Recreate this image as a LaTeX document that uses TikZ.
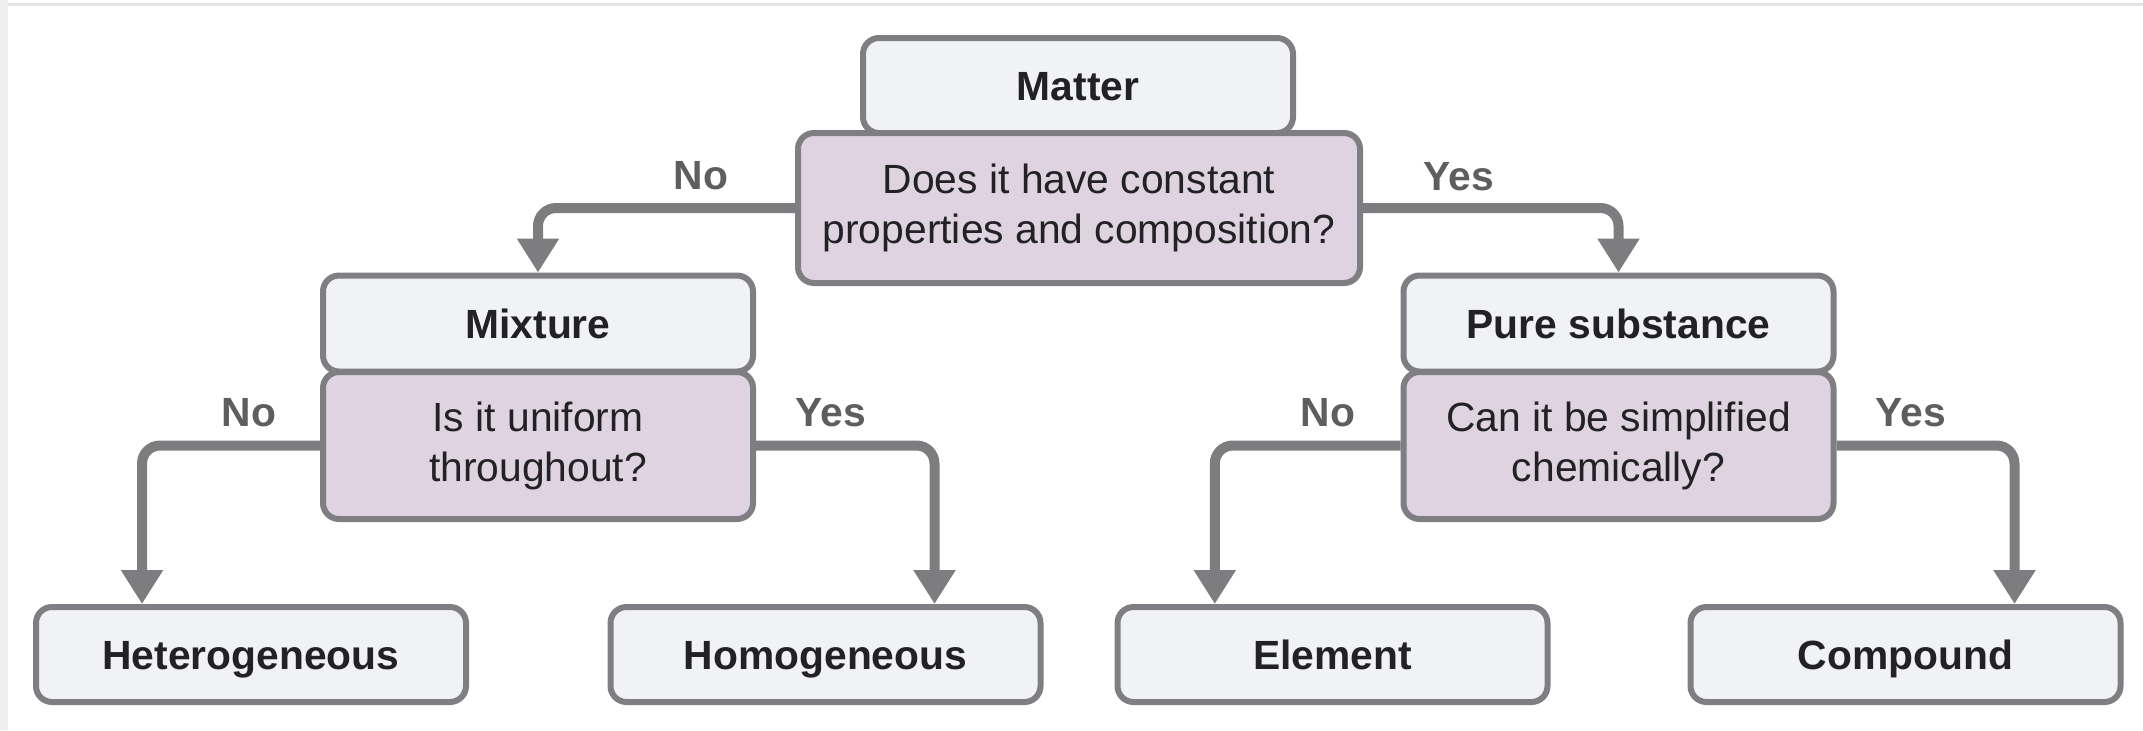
\documentclass[tikz,border=0pt]{standalone}
\usepackage{fontspec}
\setmainfont{Liberation Sans}
\usetikzlibrary{arrows.meta,calc}
\usepackage{xcolor}
\definecolor{boxFill}{HTML}{F1F2F4}
\definecolor{boxLine}{HTML}{7F7F83}
\definecolor{askFill}{HTML}{DFD3E2}
\definecolor{arrowGray}{HTML}{7D7D80}
\definecolor{labelGray}{HTML}{5E5E61}
\definecolor{inkDark}{HTML}{222224}
\definecolor{frameGray}{HTML}{EEF0EE}
\definecolor{frameLine}{HTML}{E3E5E3}

\begin{document}
\begin{tikzpicture}[
  x=0.5pt, y=-0.5pt,
  font=\fontsize{20.4}{25}\selectfont,
  category/.style={draw=boxLine,line width=3pt,rounded corners=8pt,fill=boxFill,text=inkDark,minimum width=215pt,minimum height=48pt,text height=18.6pt,text depth=4pt,font=\fontsize{20.4}{25}\selectfont\bfseries},
  question/.style={draw=boxLine,line width=3pt,rounded corners=8pt,fill=askFill,text=inkDark,minimum width=215pt,minimum height=73.5pt,align=center},
  answerArrow/.style={-{Triangle[length=17pt,width=20pt]},line width=5pt,arrowGray,rounded corners=9pt},
  answerLabel/.style={text=labelGray,font=\fontsize{20.4}{25}\selectfont\bfseries,inner sep=0pt}]

  \useasboundingbox (0,0) rectangle (2143,730);
  \fill[frameGray] (0,0) rectangle (8,730);
  \fill[frameLine] (8,3) rectangle (2143,6);

  % Position the nodes
  \node[category,minimum height=47.5pt] (cMatter) at (1078,85.5) {Matter};
  \node[question,minimum width=281pt,minimum height=75pt] (qMatter) at (1079,208) {Does it have constant\\properties and composition?};

  \node[category] (cMixture) at (538,323.5) {Mixture};
  \node[question] (qMixture) at (538,445.5) {Is it uniform\\throughout?};
  \node[category] (cPure) at (1618.5,323.5) {Pure substance};
  \node[question] (qPure) at (1618.5,445.5) {Can it be simplified\\chemically?};

  \node[category,minimum height=47.5pt] (cHetero) at (251,654.5) {Heterogeneous};
  \node[category,minimum height=47.5pt] (cHomo) at (825.5,654.5) {Homogeneous};
  \node[category,minimum height=47.5pt] (cElement) at (1332.5,654.5) {Element};
  \node[category,minimum height=47.5pt] (cCompound) at (1905.5,654.5) {Compound};

  % answers
  \node[answerLabel] (lMatterNo) at (701,176) {No};
  \node[answerLabel] (lMatterYes) at (1459,177) {Yes};
  \node[answerLabel] (lMixtureNo) at (249,413) {No};
  \node[answerLabel] (lMixtureYes) at (831,413) {Yes};
  \node[answerLabel] (lPureNo) at (1328,413) {No};
  \node[answerLabel] (lPureYes) at (1911,413) {Yes};

  % question to categories
  \draw[answerArrow] (qMatter.west) -| (cMixture.north);
  \draw[answerArrow] (qMatter.east) -| (cPure.north);
  \draw[answerArrow] (qMixture.west) -| ($(cHetero.north west)!0.25!(cHetero.north east)$);
  \draw[answerArrow] (qMixture.east) -| ($(cHomo.north west)!0.75!(cHomo.north east)$);
  \draw[answerArrow] (qPure.west) -| ($(cElement.north west)!0.23!(cElement.north east)$);
  \draw[answerArrow] (qPure.east) -| ($(cCompound.north west)!0.75!(cCompound.north east)$);
\end{tikzpicture}
\end{document}
